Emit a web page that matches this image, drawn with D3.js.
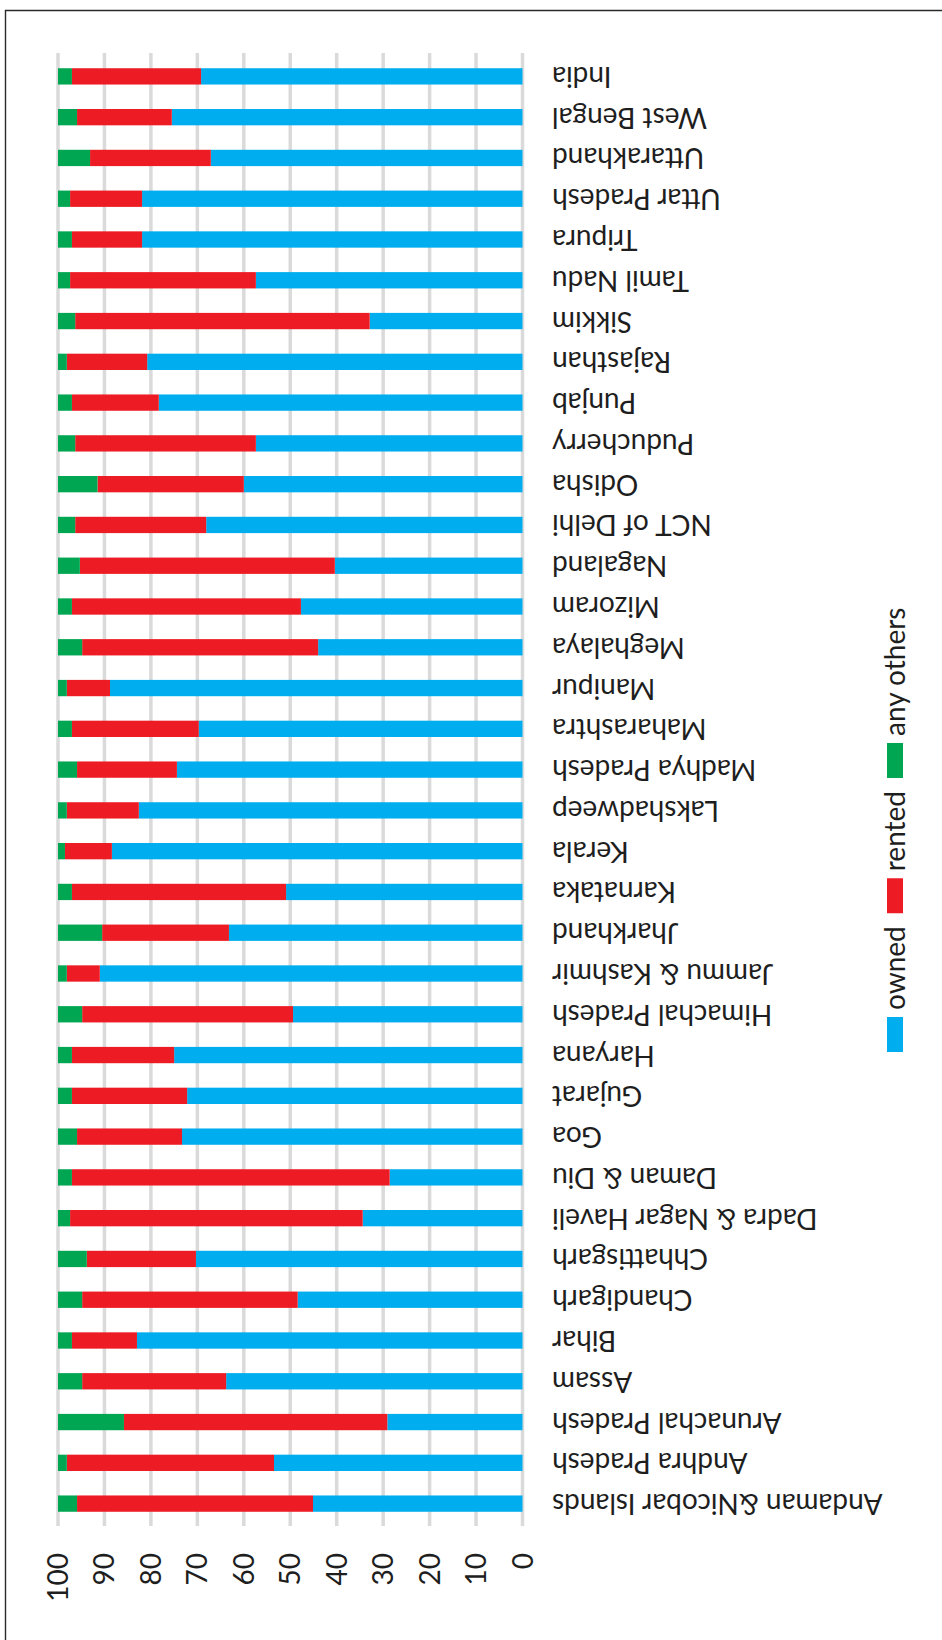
<!DOCTYPE html>
<html>
<head>
<meta charset="utf-8">
<script src="https://cdn.jsdelivr.net/npm/d3@7"></script>
<style>
  html, body { margin: 0; padding: 0; background: #fff; }
  svg { display: block; }
  text { font-family: Lato, "Open Sans", sans-serif; fill: #1e1e1e; }
</style>
</head>
<body>
<svg id="chart"></svg>
<script>
// Urban households by ownership status of the house, per cent (States / UTs and India)
const categories = [
  "Andaman &Nicobar Islands", "Andhra Pradesh", "Arunachal Pradesh", "Assam", "Bihar",
  "Chandigarh", "Chhattisgarh", "Dadra & Nagar Haveli", "Daman & Diu", "Goa", "Gujarat",
  "Haryana", "Himachal Pradesh", "Jammu & Kashmir", "Jharkhand", "Karnataka", "Kerala",
  "Lakshadweep", "Madhya Pradesh", "Maharashtra", "Manipur", "Meghalaya", "Mizoram",
  "Nagaland", "NCT of Delhi", "Odisha", "Puducherry", "Punjab", "Rajasthan", "Sikkim",
  "Tamil Nadu", "Tripura", "Uttar Pradesh", "Uttarakhand", "West Bengal", "India"
];
const owned = [
  45.1, 53.5, 29.1, 63.8, 83.0,
  48.4, 70.3, 34.4, 28.6, 73.3, 72.2,
  75.0, 49.4, 91.0, 63.2, 50.9, 88.4,
  82.6, 74.4, 69.7, 88.8, 44.0, 47.7,
  40.4, 68.1, 60.0, 57.4, 78.3, 80.8, 32.9,
  57.4, 81.9, 81.9, 67.1, 75.5, 69.2
];
const rented = [
  50.8, 44.6, 56.7, 31.0, 14.0,
  46.4, 23.5, 63.0, 68.4, 22.6, 24.8,
  22.0, 45.4, 7.1, 27.3, 46.1, 10.1,
  15.5, 21.5, 27.3, 9.3, 50.8, 49.3,
  54.9, 28.2, 31.5, 38.9, 18.7, 17.3, 63.4,
  40.0, 15.1, 15.5, 26.0, 20.4, 27.8
];
const anyOthers = [
  4.1, 1.9, 14.2, 5.2, 3.0,
  5.2, 6.2, 2.6, 3.0, 4.1, 3.0,
  3.0, 5.2, 1.9, 9.5, 3.0, 1.5,
  1.9, 4.1, 3.0, 1.9, 5.2, 3.0,
  4.7, 3.7, 8.5, 3.7, 3.0, 1.9, 3.7,
  2.6, 3.0, 2.6, 6.9, 4.1, 3.0
];
const seriesKeys = ["owned", "rented", "any others"];
const seriesColors = ["#00aeef", "#ed1c24", "#00a651"];
const tickValues = [0, 10, 20, 30, 40, 50, 60, 70, 80, 90, 100];

const W = 942, H = 1640;
const FONT = 28;

const svg = d3.select("#chart").attr("width", W).attr("height", H);

// Outer frame (left and top edges of the chart area)
svg.append("path")
  .attr("d", `M5.5,${H} V10.5 H${W}`)
  .attr("fill", "none")
  .attr("stroke", "#2a2a2a")
  .attr("stroke-width", 1.4);

// The chart is laid out as a column chart and turned a quarter turn counter-clockwise
const g = svg.append("g").attr("transform", `translate(0,${H}) rotate(-90)`);

const rows = categories.map((c, i) => ({
  category: c,
  "owned": owned[i],
  "rented": rented[i],
  "any others": anyOthers[i]
}));

const x = d3.scaleBand()
  .domain(categories)
  .range([116, 1584])
  .paddingInner(0.6)
  .paddingOuter(0.3);

const y = d3.scaleLinear()
  .domain([0, 100])
  .range([522.5, 58]);

const color = d3.scaleOrdinal().domain(seriesKeys).range(seriesColors);

// Gridlines
g.append("g")
  .selectAll("line")
  .data(tickValues)
  .join("line")
  .attr("x1", 114)
  .attr("x2", 1587)
  .attr("y1", d => y(d))
  .attr("y2", d => y(d))
  .attr("stroke", "#dadada")
  .attr("stroke-width", 3.5);

// Value axis labels
const yAxis = g.append("g")
  .attr("transform", "translate(114,0)")
  .call(d3.axisLeft(y).tickValues(tickValues).tickSize(0).tickPadding(27).tickFormat(d3.format("d")));
yAxis.select(".domain").remove();
yAxis.selectAll("text")
  .attr("font-size", FONT)
  .attr("font-family", "Lato, 'Open Sans', sans-serif")
  .attr("fill", "#1e1e1e")
  .attr("dy", "0.34em");

// Stacked bars
const stacked = d3.stack().keys(seriesKeys)(rows);
g.append("g")
  .selectAll("g")
  .data(stacked)
  .join("g")
  .attr("fill", d => color(d.key))
  .selectAll("rect")
  .data(d => d)
  .join("rect")
  .attr("x", d => x(d.data.category))
  .attr("width", x.bandwidth())
  .attr("y", d => y(d[1]))
  .attr("height", d => y(d[0]) - y(d[1]));

// Category labels
const xAxis = g.append("g")
  .attr("transform", `translate(0,${y(0)})`)
  .call(d3.axisBottom(x).tickSize(0));
xAxis.select(".domain").remove();
xAxis.selectAll("text")
  .attr("transform", "rotate(-90)")
  .attr("text-anchor", "end")
  .attr("x", -29.5)
  .attr("y", 0)
  .attr("dy", "0.34em")
  .attr("font-size", FONT)
  .attr("font-family", "Lato, 'Open Sans', sans-serif")
  .attr("fill", "#1e1e1e");

// Legend
const legend = g.append("g").attr("transform", "translate(588,887)");
let cursor = 0;
seriesKeys.forEach(key => {
  const item = legend.append("g").attr("transform", `translate(${cursor},0)`);
  item.append("rect")
    .attr("width", 35)
    .attr("height", 16)
    .attr("fill", color(key));
  const label = item.append("text")
    .attr("x", 42)
    .attr("y", 8)
    .attr("dy", "0.34em")
    .attr("font-size", FONT)
    .text(key);
  cursor += 42 + label.node().getComputedTextLength() + 13;
});
</script>
</body>
</html>
